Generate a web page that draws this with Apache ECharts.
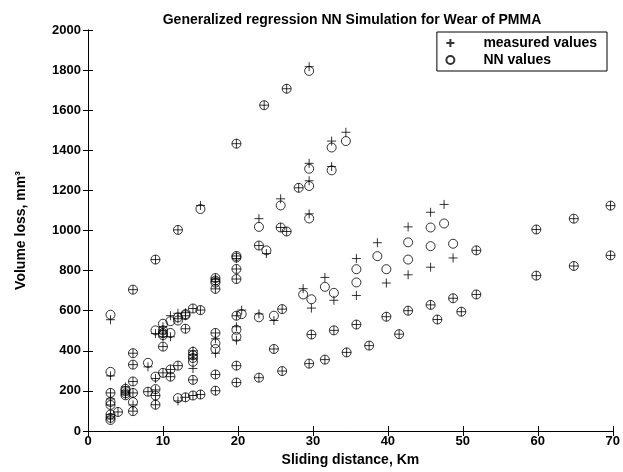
<!DOCTYPE html>
<html>
<head>
<meta charset="utf-8">
<script src="https://cdn.jsdelivr.net/npm/echarts@6/dist/echarts.min.js"></script>
<style>html,body{margin:0;padding:0;background:#fff}#c{width:623px;height:472px}</style>
</head>
<body>
<div id="c"></div>
<script>
// Sliding distance (Km) for each sample
var distance = [
  3,3,3,3,3,3,3,3,
  4,
  5,5,5,5,
  6,6,6,6,6,6,6,
  8,8,
  9,9,9,9,9,9,
  10,10,10,10,10,10,
  11,11,11,11,
  12,12,12,12,12,
  13,13,13,13,
  14,14,14,14,14,14,14,
  15,15,15,
  17,17,17,17,17,17,17,17,17,
  19.8,19.8,19.8,19.8,19.8,19.8,19.8,19.8,19.8,19.8,
  20.5,
  22.8,22.8,22.8,22.8,
  23.5,23.8,
  24.8,24.8,
  25.7,25.7,
  25.9,25.9,
  26.5,26.5,
  28.1,28.7,
  29.5,29.5,29.5,29.5,29.5,
  29.8,29.8,
  31.6,31.6,
  32.5,32.5,
  32.8,32.8,
  34.4,34.5,
  35.8,35.8,35.8,
  37.5,38.6,
  39.8,39.8,
  41.5,
  42.7,42.7,42.7,
  45.7,45.7,45.7,
  46.6,47.5,
  48.7,48.7,
  49.8,
  51.8,51.8,
  59.8,59.8,
  64.8,64.8,
  69.7,69.7
];
// NN simulated volume loss (mm3)
var nnValues = [
  580,295,190,145,130,82,66,55,
  95,
  210,200,188,178,
  705,388,331,247,190,144,99,
  340,196,
  855,502,271,209,177,131,
  535,502,488,478,421,290,
  548,489,307,271,
  1003,567,551,326,164,
  583,578,510,168,
  611,395,378,364,345,255,177,
  1107,603,182,
  763,750,740,709,489,437,409,282,201,
  1433,873,865,808,758,575,505,470,326,242,
  583,
  1018,925,567,266,
  1625,901,
  575,409,
  1125,1015,
  608,299,
  1707,995,
  1213,681,
  1796,1308,1222,1060,336,
  657,481,
  719,356,
  1414,1300,
  689,502,
  1446,392,
  807,741,531,
  426,872,
  807,570,
  483,
  941,855,600,
  1015,922,629,
  556,1035,
  934,662,
  595,
  901,681,
  1005,775,
  1059,823,
  1124,876
];
// Measured volume loss (mm3)
var measuredValues = [
  555,275,190,160,130,82,70,60,
  95,
  220,200,190,180,
  705,388,331,247,190,130,99,
  320,196,
  855,486,262,205,177,131,
  520,502,488,470,421,290,
  575,470,307,271,
  1003,587,560,326,150,
  590,575,510,168,
  611,400,380,360,312,255,177,
  1125,603,182,
  763,755,745,709,489,460,388,282,201,
  1433,873,860,808,758,575,520,453,326,242,
  603,
  1059,925,584,266,
  1625,885,
  551,409,
  1158,1015,
  608,299,
  1707,995,
  1213,710,
  1817,1335,1248,1083,336,
  613,481,
  766,356,
  1446,1319,
  652,502,
  1490,392,
  860,676,531,
  426,939,
  738,570,
  483,
  1018,779,600,
  1091,817,629,
  556,1130,
  863,662,
  595,
  901,681,
  1005,775,
  1059,823,
  1124,876
];
var xTicks = [0,10,20,30,40,50,60,70];
var yTicks = [0,200,400,600,800,1000,1200,1400,1600,1800,2000];

var measuredData = distance.map(function(d,i){return [d, measuredValues[i]];});
var nnData = distance.map(function(d,i){return [d, nnValues[i]];});

var FONT = '"Liberation Sans", Arial, Helvetica, sans-serif';
var PLUS = 'path://M5,0L5,10M0,5L10,5';

function axisBase(extra){
  var a = {
    axisLine:{show:true,lineStyle:{color:'#000',width:1}},
    axisTick:{show:true,inside:true,length:5,lineStyle:{color:'#000',width:1}},
    splitLine:{show:false},
    axisLabel:{color:'#000',fontFamily:FONT,fontWeight:'bold',fontSize:13}
  };
  for (var k in extra) a[k] = extra[k];
  return a;
}

var chart = echarts.init(document.getElementById('c'), null, {renderer:'canvas'});
chart.setOption({
  animation:false,
  backgroundColor:'#fff',
  title:{
    text:'Generalized regression NN Simulation for Wear of PMMA',
    left:347, top:8, textAlign:'center',
    textStyle:{fontFamily:FONT,fontWeight:'bold',fontSize:14,color:'#000'}
  },
  grid:{left:88,right:10,top:30,bottom:32,containLabel:false},
  legend:{
    orient:'vertical', right:16, top:32,
    padding:[4,10,4,7], itemGap:3,
    itemWidth:8, itemHeight:8,
    borderColor:'#000', borderWidth:1, backgroundColor:'#fff',
    textStyle:{fontFamily:FONT,fontWeight:'bold',fontSize:14,color:'#000',lineHeight:14,padding:[0,0,0,24]},
    data:['measured values','NN values']
  },
  xAxis:[
    axisBase({type:'value',min:0,max:70,interval:10,position:'bottom',
      name:'Sliding distance, Km',nameLocation:'middle',nameGap:22,
      nameTextStyle:{fontFamily:FONT,fontWeight:'bold',fontSize:14,color:'#000'},
      axisLabel:{color:'#000',fontFamily:FONT,fontWeight:'bold',fontSize:13,margin:4,
        formatter:function(v){return xTicks.indexOf(v)>=0?String(v):'';}}}),
    axisBase({type:'value',min:0,max:70,interval:10,position:'top',axisLabel:{show:false}})
  ],
  yAxis:[
    axisBase({type:'value',min:0,max:2000,interval:200,position:'left',
      name:'Volume loss, mm³',nameLocation:'middle',nameGap:60,
      nameTextStyle:{fontFamily:FONT,fontWeight:'bold',fontSize:14,color:'#000'},
      axisLabel:{color:'#000',fontFamily:FONT,fontWeight:'bold',fontSize:13,margin:7,
        formatter:function(v){return yTicks.indexOf(v)>=0?String(v):'';}}}),
    axisBase({type:'value',min:0,max:2000,interval:200,position:'right',axisLabel:{show:false}})
  ],
  series:[
    {name:'measured values',type:'scatter',xAxisIndex:0,yAxisIndex:0,
     symbol:PLUS,symbolSize:9,
     itemStyle:{color:'none',borderColor:'#000',borderWidth:1},
     data:measuredData},
    {name:'NN values',type:'scatter',xAxisIndex:0,yAxisIndex:0,
     symbol:'circle',symbolSize:9,
     itemStyle:{color:'none',borderColor:'#000',borderWidth:1},
     data:nnData}
  ]
});
</script>
</body>
</html>
